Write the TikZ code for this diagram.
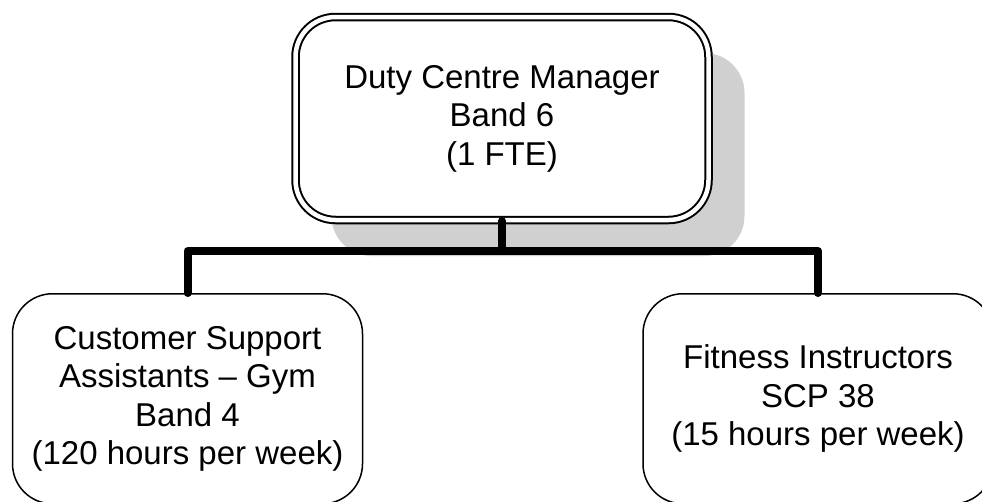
\documentclass[tikz,border=0pt]{standalone}
\usepackage{fontspec}
\setmainfont{Liberation Sans}
\usetikzlibrary{positioning, shadows}
\definecolor{Ink}{HTML}{000000}
\definecolor{Shade}{HTML}{D0D0D0}
\tikzset{
    headbox/.style={rectangle, rounded corners=40pt, draw=Ink, line width=2pt, double=white, double distance=4.5pt, fill=white, align=center, font=\fontsize{33}{38.5}\selectfont, minimum width=413pt, minimum height=203pt, drop shadow={shadow xshift=36pt, shadow yshift=-36pt, fill=Shade, opacity=1}},
    staffbox/.style={rectangle, rounded corners=40pt, draw=Ink, line width=1.5pt, fill=white, align=center, font=\fontsize{33}{38.5}\selectfont, minimum width=350pt, minimum height=210pt},
    link/.style={line width=8pt, color=Ink, line cap=round, line join=round},
}

\begin{document}
\begin{tikzpicture}
        \useasboundingbox (0,0) rectangle (982pt,-501pt);
        \node[headbox] (dcm) at (502pt,-118.5pt) {Duty Centre Manager\\Band 6\\(1 FTE)};
        \node[staffbox, below=72pt of dcm, xshift=-314.5pt] (csa) {Customer Support\\Assistants – Gym\\Band 4\\(120 hours per week)};
        \node[staffbox, below=72pt of dcm, xshift=316pt] (fi) {Fitness Instructors\\SCP 38\\(15 hours per week)};

        % reporting lines
        \draw[link] (dcm.south) -- ++(0,-30pt) coordinate (fork);
        \draw[link] (csa.north) |- (fork) -| (fi.north);
    \end{tikzpicture}
\end{document}
